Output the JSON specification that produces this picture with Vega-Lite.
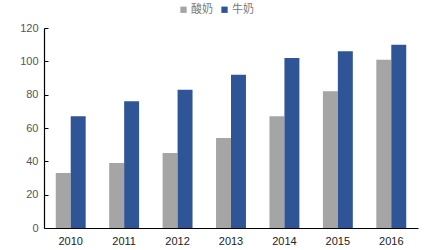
{
  "$schema": "https://vega.github.io/schema/vega-lite/v6.json",
  "width": 374,
  "height": 200,
  "autosize": {"type": "none"},
  "padding": {"left": 44, "top": 28, "right": 16, "bottom": 22},
  "background": "white",
  "config": {"view": {"stroke": null}, "font": "Liberation Sans"},
  "data": {
    "values": [
      {"year": "2010", "type": "酸奶", "value": 33},
      {"year": "2010", "type": "牛奶", "value": 67},
      {"year": "2011", "type": "酸奶", "value": 39},
      {"year": "2011", "type": "牛奶", "value": 76},
      {"year": "2012", "type": "酸奶", "value": 45},
      {"year": "2012", "type": "牛奶", "value": 83},
      {"year": "2013", "type": "酸奶", "value": 54},
      {"year": "2013", "type": "牛奶", "value": 92},
      {"year": "2014", "type": "酸奶", "value": 67},
      {"year": "2014", "type": "牛奶", "value": 102},
      {"year": "2015", "type": "酸奶", "value": 82},
      {"year": "2015", "type": "牛奶", "value": 106},
      {"year": "2016", "type": "酸奶", "value": 101},
      {"year": "2016", "type": "牛奶", "value": 110}
    ]
  },
  "mark": {"type": "bar"},
  "encoding": {
    "x": {
      "field": "year", "type": "nominal",
      "scale": {"paddingInner": 0.44, "paddingOuter": 0.22},
      "axis": {"title": null, "labelAngle": 0, "ticks": false, "domainColor": "#000000", "domainWidth": 1.2, "labelColor": "#222222", "labelFontSize": 11, "labelPadding": 7}
    },
    "xOffset": {"field": "type", "sort": ["酸奶", "牛奶"]},
    "y": {
      "field": "value", "type": "quantitative",
      "scale": {"domain": [0, 120]},
      "axis": {"title": null, "values": [0, 20, 40, 60, 80, 100, 120], "grid": false, "domainColor": "#000000", "domainWidth": 1.2, "tickColor": "#000000", "tickSize": -4, "labelPadding": 10, "labelColor": "#555555", "labelFontSize": 11}
    },
    "color": {
      "field": "type", "type": "nominal",
      "scale": {"domain": ["酸奶", "牛奶"], "range": ["#A5A5A5", "#2F5597"]},
      "legend": {"title": null, "orient": "none", "direction": "horizontal", "legendX": 134, "legendY": -24, "symbolType": "square", "symbolSize": 40, "symbolStrokeWidth": 0, "labelFont": "Noto Sans CJK SC", "labelFontSize": 11, "labelColor": "#777777", "columnPadding": 6, "labelOffset": 2}
    }
  }
}
